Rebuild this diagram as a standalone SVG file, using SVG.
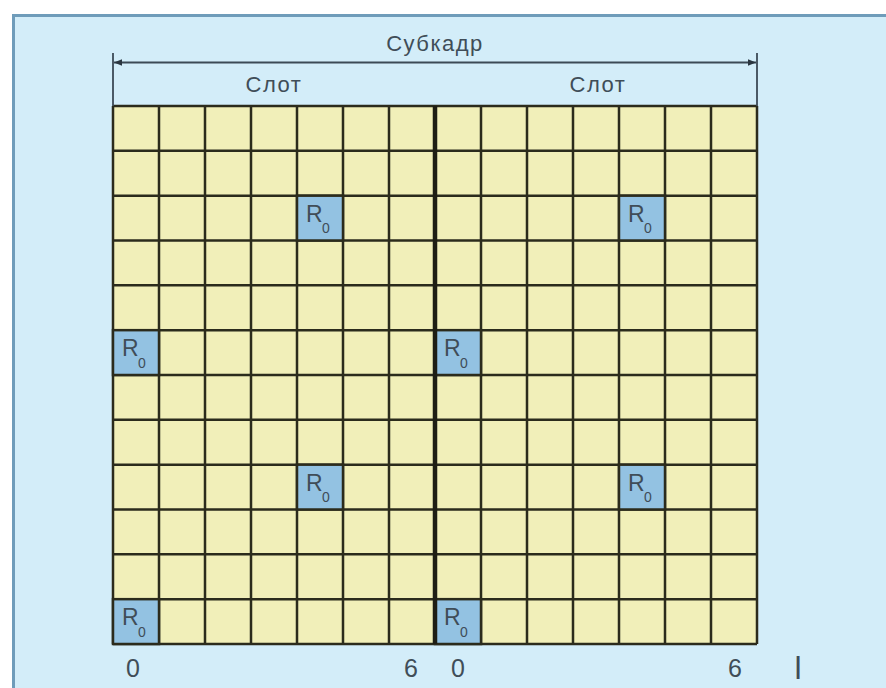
<svg xmlns="http://www.w3.org/2000/svg" width="886" height="688" viewBox="0 0 886 688">
<defs>
<style>
.t{font-family:"Liberation Sans",Arial,sans-serif;fill:#404d58;}
.lbl{font-size:22px;letter-spacing:1.5px;}
.num{font-size:25px;}
.g{stroke:#2b2b1c;stroke-width:2.5;fill:none;}
.rc{fill:#93c2e2;stroke:#2b2b1c;stroke-width:2.5;}
.r{font-size:23px;}
.s{font-size:14px;}
.dim{stroke:#3c4a56;stroke-width:1.8;fill:none;}
</style>
<marker id="ah" viewBox="0 0 10 10" refX="10" refY="5" markerWidth="9" markerHeight="8" orient="auto-start-reverse" markerUnits="userSpaceOnUse">
<path d="M0,1 L10,5 L0,9 Z" fill="#2b3640"/>
</marker>
</defs>
<rect x="0" y="0" width="886" height="688" fill="#ffffff"/>
<rect x="13.5" y="15.5" width="880" height="680" fill="#d3edf9" stroke="#6f9cba" stroke-width="3"/>
<g id="grid">
<rect x="113" y="106" width="644" height="538" fill="#f1efb9"/>
<path class="g" d="M113,106V644M159,106V644M205,106V644M251,106V644M297,106V644M343,106V644M389,106V644M481,106V644M527,106V644M573,106V644M619,106V644M665,106V644M711,106V644M757,106V644"/>
<path class="g" d="M113,106H757M113,150.83H757M113,195.67H757M113,240.5H757M113,285.33H757M113,330.17H757M113,375H757M113,419.83H757M113,464.67H757M113,509.5H757M113,554.33H757M113,599.17H757M113,644H757"/>
</g>
<g id="r0-1"><rect class="rc" x="297" y="195.67" width="46" height="44.83"/><text class="t r" x="306" y="221.5">R</text><text class="t s" x="322" y="233">0</text></g>
<g id="r0-2"><rect class="rc" x="113" y="330.17" width="46" height="44.83"/><text class="t r" x="122" y="356">R</text><text class="t s" x="138" y="367.5">0</text></g>
<g id="r0-3"><rect class="rc" x="297" y="464.67" width="46" height="44.83"/><text class="t r" x="306" y="490.5">R</text><text class="t s" x="322" y="502">0</text></g>
<g id="r0-4"><rect class="rc" x="113" y="599.17" width="46" height="44.83"/><text class="t r" x="122" y="625">R</text><text class="t s" x="138" y="636.5">0</text></g>
<g id="r0-5"><rect class="rc" x="619" y="195.67" width="46" height="44.83"/><text class="t r" x="628" y="221.5">R</text><text class="t s" x="644" y="233">0</text></g>
<g id="r0-6"><rect class="rc" x="435" y="330.17" width="46" height="44.83"/><text class="t r" x="444" y="356">R</text><text class="t s" x="460" y="367.5">0</text></g>
<g id="r0-7"><rect class="rc" x="619" y="464.67" width="46" height="44.83"/><text class="t r" x="628" y="490.5">R</text><text class="t s" x="644" y="502">0</text></g>
<g id="r0-8"><rect class="rc" x="435" y="599.17" width="46" height="44.83"/><text class="t r" x="444" y="625">R</text><text class="t s" x="460" y="636.5">0</text></g>
<line x1="435" y1="106" x2="435" y2="644" stroke="#1e1e14" stroke-width="4.5"/>
<g id="connectors">
<line class="dim" x1="113" y1="53" x2="113" y2="106"/>
<line class="dim" x1="757" y1="53" x2="757" y2="106"/>
<line class="dim" x1="114" y1="62.5" x2="756" y2="62.5" marker-start="url(#ah)" marker-end="url(#ah)"/>
</g>
<g id="labels">
<text class="t lbl" x="435" y="51" text-anchor="middle">Субкадр</text>
<text class="t lbl" x="274" y="92" text-anchor="middle">Слот</text>
<text class="t lbl" x="598" y="92" text-anchor="middle">Слот</text>
<text class="t num" x="133" y="677" text-anchor="middle">0</text>
<text class="t num" x="411" y="677" text-anchor="middle">6</text>
<text class="t num" x="458" y="677" text-anchor="middle">0</text>
<text class="t num" x="735" y="677" text-anchor="middle">6</text>
<text class="t" x="798" y="679" text-anchor="middle" font-size="32">l</text>
</g>
</svg>
